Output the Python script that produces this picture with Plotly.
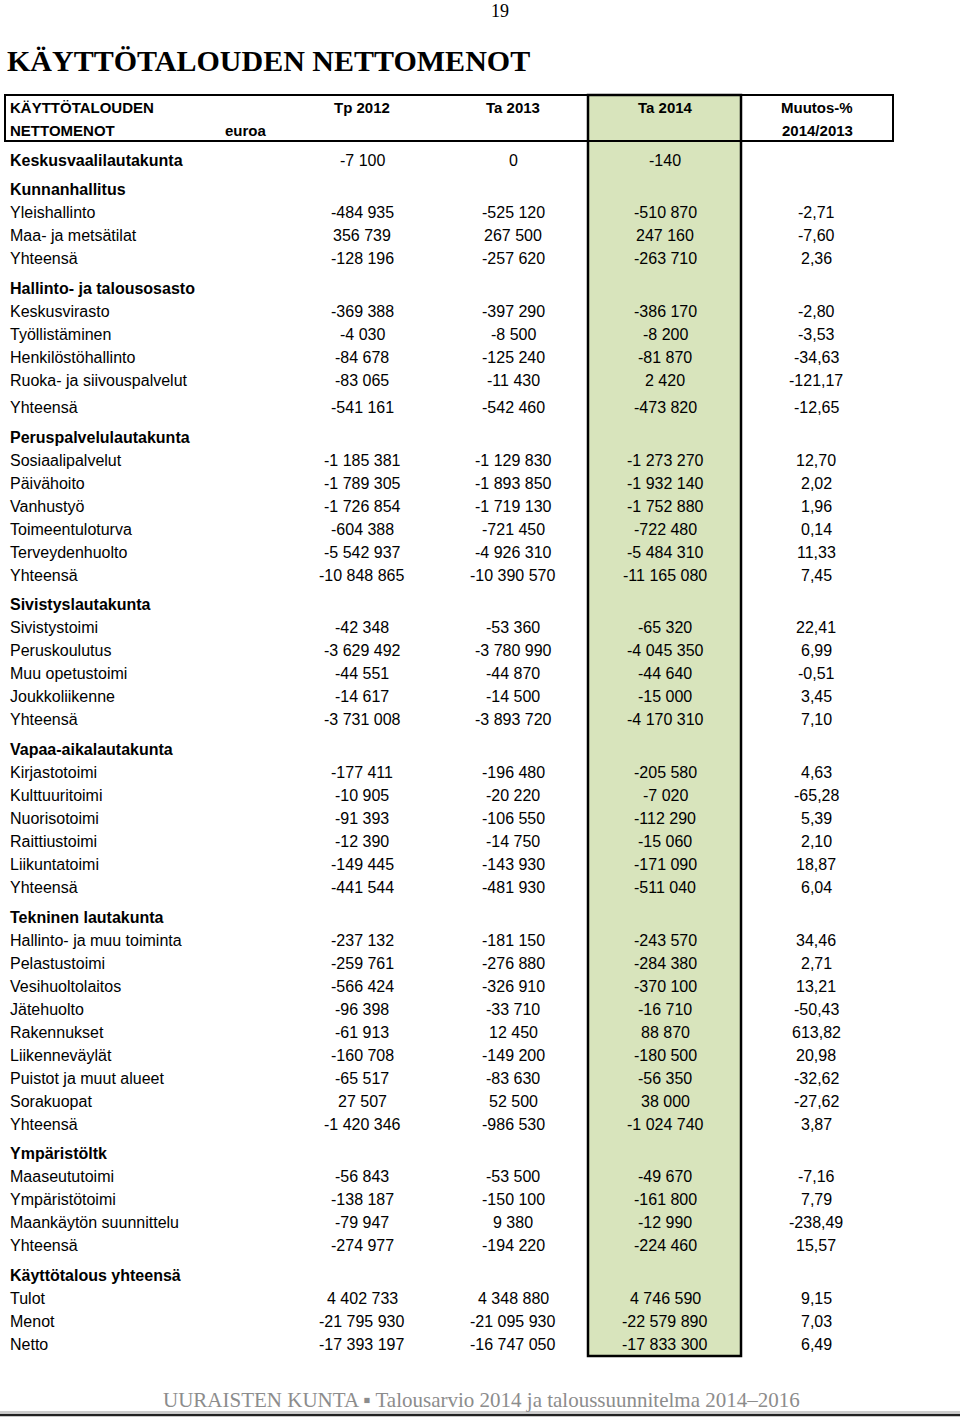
import plotly.graph_objects as go

# table content
labels = [
    "Keskusvaalilautakunta",
    "Kunnanhallitus", "Yleishallinto", "Maa- ja metsätilat", "Yhteensä",
    "Hallinto- ja talousosasto", "Keskusvirasto", "Työllistäminen", "Henkilöstöhallinto",
    "Ruoka- ja siivouspalvelut", "Yhteensä",
    "Peruspalvelulautakunta", "Sosiaalipalvelut", "Päivähoito", "Vanhustyö", "Toimeentuloturva",
    "Terveydenhuolto", "Yhteensä",
    "Sivistyslautakunta", "Sivistystoimi", "Peruskoulutus", "Muu opetustoimi", "Joukkoliikenne", "Yhteensä",
    "Vapaa-aikalautakunta", "Kirjastotoimi", "Kulttuuritoimi", "Nuorisotoimi", "Raittiustoimi",
    "Liikuntatoimi", "Yhteensä",
    "Tekninen lautakunta", "Hallinto- ja muu toiminta", "Pelastustoimi", "Vesihuoltolaitos", "Jätehuolto",
    "Rakennukset", "Liikenneväylät", "Puistot ja muut alueet", "Sorakuopat", "Yhteensä",
    "Ympäristöltk", "Maaseututoimi", "Ympäristötoimi", "Maankäytön suunnittelu", "Yhteensä",
    "Käyttötalous yhteensä", "Tulot", "Menot", "Netto",
]

# 'b' = bold first row, 'g' = group heading, 'i' = item, 's' = item with extra space above
kinds = [
    "b",
    "g", "i", "i", "i",
    "g", "i", "i", "i", "i", "s",
    "g", "i", "i", "i", "i", "i", "i",
    "g", "i", "i", "i", "i", "i",
    "g", "i", "i", "i", "i", "i", "i",
    "g", "i", "i", "i", "i", "i", "i", "i", "i", "i",
    "g", "i", "i", "i", "i",
    "g", "i", "i", "i",
]

tp2012 = [
    "-7 100",
    "", "-484 935", "356 739", "-128 196",
    "", "-369 388", "-4 030", "-84 678", "-83 065", "-541 161",
    "", "-1 185 381", "-1 789 305", "-1 726 854", "-604 388", "-5 542 937", "-10 848 865",
    "", "-42 348", "-3 629 492", "-44 551", "-14 617", "-3 731 008",
    "", "-177 411", "-10 905", "-91 393", "-12 390", "-149 445", "-441 544",
    "", "-237 132", "-259 761", "-566 424", "-96 398", "-61 913", "-160 708", "-65 517", "27 507", "-1 420 346",
    "", "-56 843", "-138 187", "-79 947", "-274 977",
    "", "4 402 733", "-21 795 930", "-17 393 197",
]

ta2013 = [
    "0",
    "", "-525 120", "267 500", "-257 620",
    "", "-397 290", "-8 500", "-125 240", "-11 430", "-542 460",
    "", "-1 129 830", "-1 893 850", "-1 719 130", "-721 450", "-4 926 310", "-10 390 570",
    "", "-53 360", "-3 780 990", "-44 870", "-14 500", "-3 893 720",
    "", "-196 480", "-20 220", "-106 550", "-14 750", "-143 930", "-481 930",
    "", "-181 150", "-276 880", "-326 910", "-33 710", "12 450", "-149 200", "-83 630", "52 500", "-986 530",
    "", "-53 500", "-150 100", "9 380", "-194 220",
    "", "4 348 880", "-21 095 930", "-16 747 050",
]

ta2014 = [
    "-140",
    "", "-510 870", "247 160", "-263 710",
    "", "-386 170", "-8 200", "-81 870", "2 420", "-473 820",
    "", "-1 273 270", "-1 932 140", "-1 752 880", "-722 480", "-5 484 310", "-11 165 080",
    "", "-65 320", "-4 045 350", "-44 640", "-15 000", "-4 170 310",
    "", "-205 580", "-7 020", "-112 290", "-15 060", "-171 090", "-511 040",
    "", "-243 570", "-284 380", "-370 100", "-16 710", "88 870", "-180 500", "-56 350", "38 000", "-1 024 740",
    "", "-49 670", "-161 800", "-12 990", "-224 460",
    "", "4 746 590", "-22 579 890", "-17 833 300",
]

muutos = [
    "",
    "", "-2,71", "-7,60", "2,36",
    "", "-2,80", "-3,53", "-34,63", "-121,17", "-12,65",
    "", "12,70", "2,02", "1,96", "0,14", "11,33", "7,45",
    "", "22,41", "6,99", "-0,51", "3,45", "7,10",
    "", "4,63", "-65,28", "5,39", "2,10", "18,87", "6,04",
    "", "34,46", "2,71", "13,21", "-50,43", "613,82", "20,98", "-32,62", "-27,62", "3,87",
    "", "-7,16", "7,79", "-238,49", "15,57",
    "", "9,15", "7,03", "6,49",
]

header_top = ["KÄYTTÖTALOUDEN", "Tp 2012", "Ta 2013", "Ta 2014", "Muutos-%"]
header_bottom = ["NETTOMENOT", "euroa", "2014/2013"]

SANS = "Liberation Sans, Arial, sans-serif"
SERIF = "Liberation Serif, Times New Roman, serif"
GREEN = "#d8e4bc"

col_x = [362, 513, 665, 816]  # column centres
fig = go.Figure()

ann = []


def add_text(x, y, text, size=16, bold=False, anchor="center", font=SANS, color="black"):
    if not text:
        return
    ann.append(dict(
        x=x, y=y, xref="x", yref="y", text=f"<b>{text}</b>" if bold else text,
        showarrow=False, xanchor=anchor, yanchor="middle",
        font=dict(family=font, size=size, color=color),
    ))


# row positions
ys = []
y = 160
for i, k in enumerate(kinds):
    if i > 0:
        if k == "g":
            y += 29.7
        elif k == "s":
            y += 27
        else:
            y += 23
    ys.append(y)

for i, lab in enumerate(labels):
    bold = kinds[i] in ("g", "b")
    add_text(8, ys[i], lab, bold=bold, anchor="left")
    for cx, col in zip(col_x, [tp2012, ta2013, ta2014, muutos]):
        add_text(cx, ys[i], col[i])

# header
add_text(8, 107, header_top[0], size=15, bold=True, anchor="left")
add_text(8, 130, header_bottom[0], size=15, bold=True, anchor="left")
add_text(246, 130, header_bottom[1], size=15, bold=True)
for cx, t in zip(col_x, header_top[1:]):
    add_text(cx + 1 if t.startswith("Muutos") else cx, 107, t, size=15, bold=True)
add_text(817, 130, header_bottom[2], size=15, bold=True)

# page number, title, footer
add_text(500, 11, "19", size=18, font=SERIF)
add_text(5, 60, "KÄYTTÖTALOUDEN NETTOMENOT", size=30, bold=True, anchor="left", font=SERIF)
add_text(481, 1400, "UURAISTEN KUNTA ▪ Talousarvio 2014 ja taloussuunnitelma 2014–2016",
         size=21, font=SERIF, color="#8c8c8c")

shapes = [
    dict(type="rect", x0=588, x1=741, y0=95, y1=1356, xref="x", yref="y",
         fillcolor=GREEN, line=dict(color="black", width=2.5), layer="below"),
    dict(type="rect", x0=5, x1=893, y0=95, y1=141, xref="x", yref="y",
         line=dict(color="black", width=2), layer="below"),
    dict(type="line", x0=0, x1=960, y0=1412, y1=1412, xref="x", yref="y",
         line=dict(color="#9a9a9a", width=1)),
    dict(type="line", x0=0, x1=960, y0=1415, y1=1415, xref="x", yref="y",
         line=dict(color="#222", width=2.5)),
]

fig.update_layout(
    width=960, height=1419,
    margin=dict(l=0, r=0, t=0, b=0),
    paper_bgcolor="white", plot_bgcolor="white",
    xaxis=dict(range=[0, 960], visible=False, fixedrange=True),
    yaxis=dict(range=[1419, 0], visible=False, fixedrange=True),
    annotations=ann, shapes=shapes, showlegend=False,
)

# drop the default 8px body margin so the page lines up with the window
fig.write_html("out.html", config={"displayModeBar": False},
               post_script="document.body.style.margin='0';")
